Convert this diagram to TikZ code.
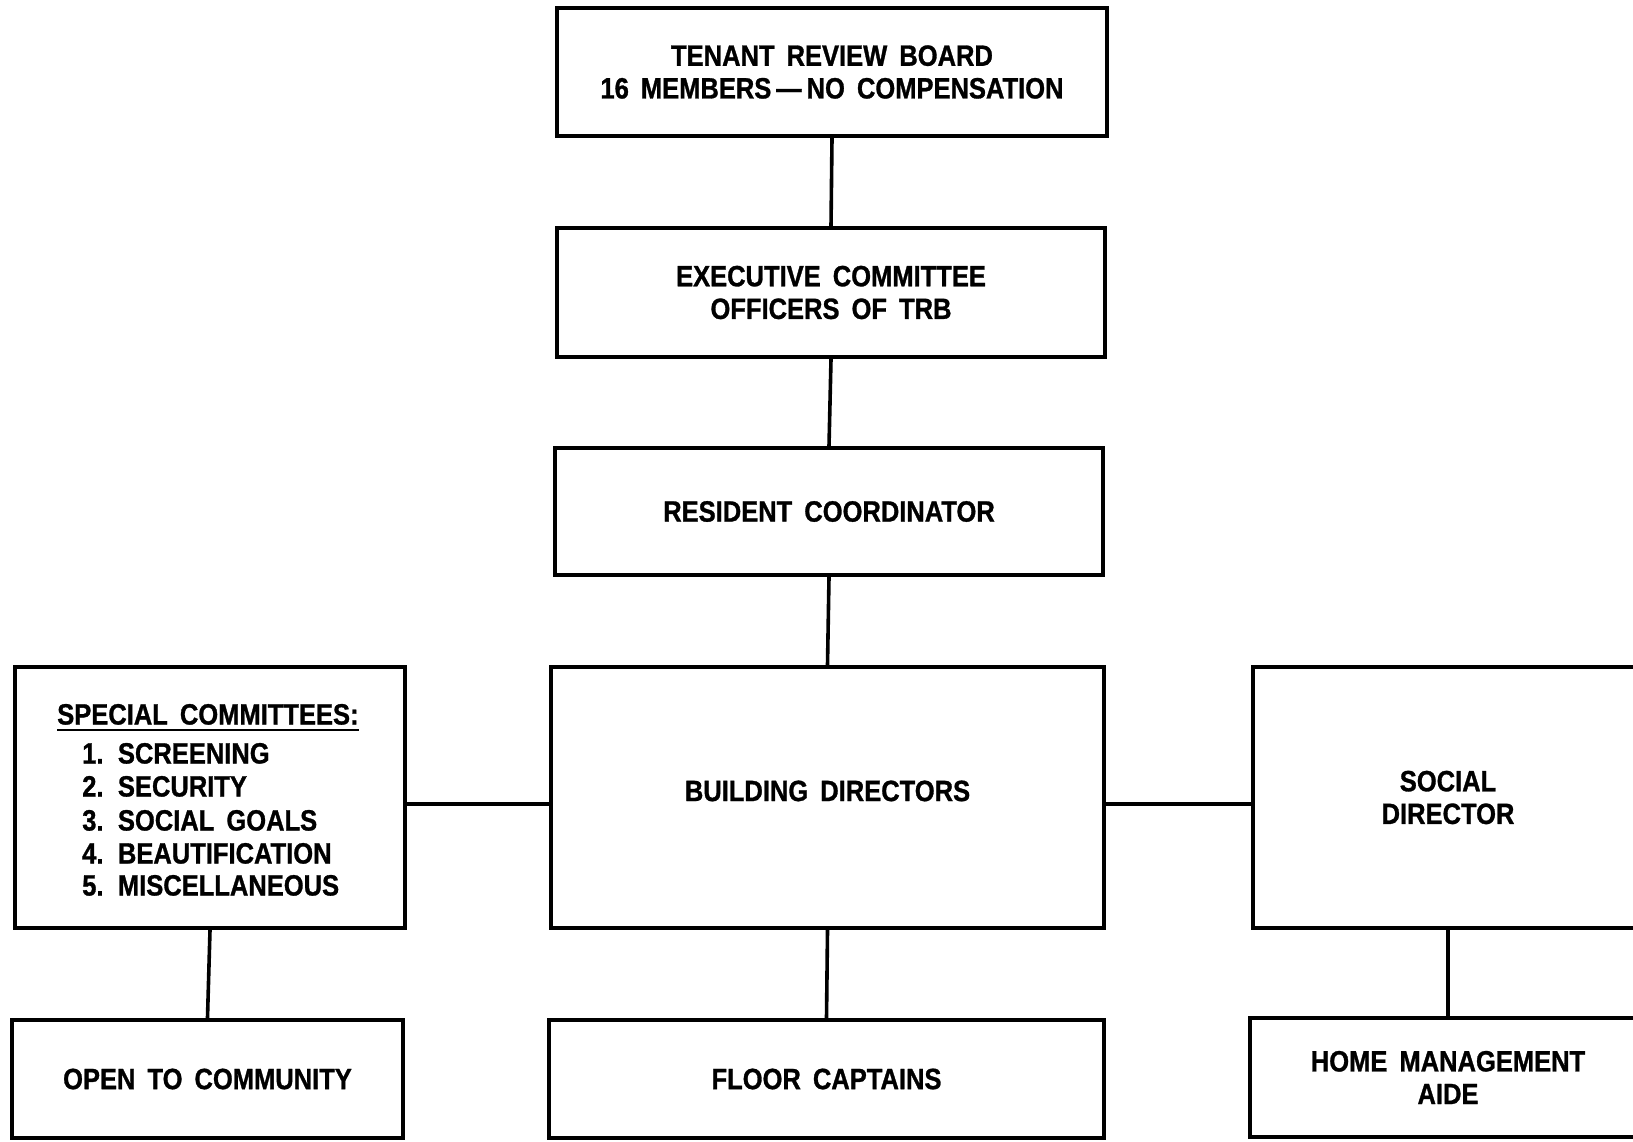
\documentclass[tikz,border=0pt]{standalone}
\usepackage{fontspec}
\setmainfont{Liberation Sans Bold}[FakeStretch=0.87, WordSpace=1.7, FakeBold=1.0]
\begin{document}
\begin{tikzpicture}[x=0.75pt,y=-0.75pt,
  lbl/.style={font=\fontsize{22}{24.5}\selectfont},
  box/.style={draw, line width=3.2pt, inner sep=0pt, align=center, lbl},
  txt/.style={inner sep=0pt, anchor=west, text height=15.75pt, text depth=0pt, lbl},
  link/.style={line width=2.7pt}]
\useasboundingbox (0,0) rectangle (1633,1141);
\fill[white] (0,0) rectangle (1633,1141);
\node[box, minimum width=412.5pt, minimum height=96pt] (trb) at (832,72)
  {TENANT REVIEW BOARD\\16 MEMBERS\,—\,NO COMPENSATION};
\node[box, minimum width=411pt, minimum height=96.75pt] (exec) at (831,292.5)
  {EXECUTIVE COMMITTEE\\OFFICERS OF TRB};
\node[box, minimum width=411pt, minimum height=95.25pt] (res) at (829,511.5)
  {RESIDENT COORDINATOR};
\node[box, minimum width=414.75pt, minimum height=195.75pt] (bld) at (827.5,797.5)
  {\raisebox{4.9pt}[\height][\depth]{BUILDING DIRECTORS}};
\node[box, minimum width=292.5pt, minimum height=195.75pt] (spec) at (210,797.5) {};
\node[box, minimum width=292.5pt, minimum height=195.75pt] (soc) at (1448,797.5)
  {SOCIAL\\DIRECTOR};
\node[box, minimum width=293.25pt, minimum height=88.5pt] (open) at (207.5,1079)
  {OPEN TO COMMUNITY};
\node[box, minimum width=416.25pt, minimum height=88.5pt] (floor) at (826.5,1079)
  {FLOOR CAPTAINS};
\node[box, minimum width=297pt, minimum height=89.25pt] (home) at (1448,1077.5)
  {HOME MANAGEMENT\\AIDE};
% special committees text
\node[txt] (sh) at (57,714) {SPECIAL COMMITTEES:};
\draw[line width=2pt] ([yshift=-4pt]sh.south west) -- ([yshift=-4pt]sh.south east);
\node[txt] (s1) at (82,753) {1. SCREENING};
\node[txt] (s2) at (82,786) {2. SECURITY};
\node[txt] (s3) at (82,820) {3. SOCIAL GOALS};
\node[txt] (s4) at (82,853) {4. BEAUTIFICATION};
\node[txt] (s5) at (82,885) {5. MISCELLANEOUS};
% connectors
\draw[link] (trb.south) -- (exec.north);
\draw[link] (exec.south) -- (res.north);
\draw[link] (res.south) -- (bld.north);
\draw[link] (bld.south) -- (floor.north);
\draw[link] (spec.south) -- (open.north);
\draw[link] (soc.south) -- (home.north);
\draw[link] ([yshift=-4.9pt]spec.east) -- ([yshift=-4.9pt]bld.west);
\draw[link] ([yshift=-4.9pt]bld.east) -- ([yshift=-4.9pt]soc.west);
\end{tikzpicture}
\end{document}
